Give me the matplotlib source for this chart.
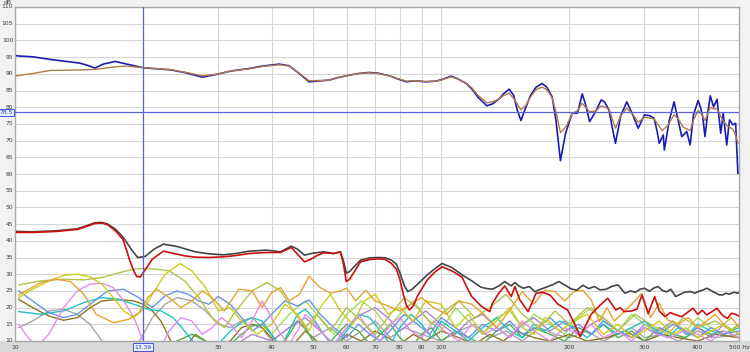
import matplotlib
matplotlib.use("Agg")
import matplotlib.pyplot as plt
from matplotlib.patches import Rectangle

# ---------------- data ----------------
blue_f = [10.1, 10.3, 11.0, 12.1, 13.2, 14.2, 15.0, 15.4, 16.1, 17.2, 18.3, 20, 21.5, 23.1, 25, 27.5,
          29.9, 32, 35.5, 38, 41.7, 44, 46, 49, 51, 54.6, 57, 60.9, 64, 67.8, 71, 75.6, 79, 82.9,
          87, 92, 97.3, 101, 105.6, 109, 114.5, 118, 122, 128, 132, 136.8, 140, 144.4, 148, 151,
          153.9, 157, 162, 167, 172.6, 177, 182.2, 186, 190.5, 195.9, 203, 209, 214.3, 218, 223,
          230, 237.5, 242, 247.6, 252, 256.5, 264, 272.7, 281, 290, 300, 308, 316, 321, 325, 332,
          334, 343, 352, 360, 367, 377, 384, 391, 401, 406, 411, 416, 422, 428, 436, 444, 453,
          459, 468, 475, 484, 491, 497]
blue_db = [95.4, 95.3, 95.1, 94.3, 93.7, 93.2, 92.3, 91.7, 92.9, 93.7, 92.9, 91.8, 91.5, 91.2, 90.4,
           89.0, 89.9, 90.8, 91.6, 92.3, 92.9, 92.4, 90.5, 87.6, 87.8, 88.1, 88.8, 89.6, 90.1, 90.4,
           90.2, 89.4, 88.5, 87.6, 87.9, 87.6, 87.8, 88.4, 89.3, 88.6, 87.1, 85.5, 83.0, 80.4,
           81.0, 82.5, 84.0, 85.4, 83.5, 79.0, 76.0, 79.0, 83.5, 86.0, 87.1, 86.0, 83.1, 76.0,
           64.0, 72.2, 78.2, 78.2, 84.0, 81.0, 75.7, 78.5, 82.2, 81.5, 79.2, 74.0, 69.2, 77.5,
           81.6, 78.0, 73.7, 77.7, 77.5, 76.7, 73.0, 69.2, 71.7, 67.2, 76.0, 81.6, 76.0, 71.2,
           72.7, 68.7, 77.7, 82.0, 80.0, 77.2, 71.2, 78.0, 83.4, 80.1, 82.4, 72.2, 78.2, 68.7,
           76.2, 74.7, 75.2, 60.2]

brown_f = [10.1, 11.0, 12.1, 13.8, 15.4, 17.2, 18.3, 20, 23.1, 25, 27.5, 29.9, 32, 35.5, 38, 41.7,
           44, 46, 49, 54.6, 57, 60.9, 64, 67.8, 71, 75.6, 79, 82.9, 87, 92, 97.3, 101, 105.6,
           109, 114.5, 118, 122, 128, 132, 136.8, 140, 144.4, 148, 153.9, 158, 162, 167, 172.6,
           177, 182, 186, 190.5, 196, 203, 209, 214, 223, 230, 237.5, 247.6, 256.5, 264, 272.7,
           281, 290, 300, 316, 330, 340, 352, 360, 370, 384, 392, 401, 408, 416, 428, 436, 444,
           452, 459, 468, 475, 483, 490, 497]
brown_db = [89.4, 90.1, 91.0, 91.1, 91.3, 92.1, 92.3, 91.8, 91.3, 90.5, 89.4, 89.9, 90.8, 91.5, 92.2,
            92.7, 92.3, 90.6, 87.9, 88.1, 88.8, 89.6, 90.1, 90.3, 90.1, 89.4, 88.6, 87.8, 87.9,
            87.7, 87.8, 88.3, 89.1, 88.5, 87.2, 85.8, 83.6, 81.3, 81.6, 82.5, 83.5, 84.2, 82.6,
            79.2, 80.5, 83.0, 85.3, 86.0, 85.2, 83.0, 78.5, 72.4, 74.0, 78.0, 79.0, 81.2, 78.7,
            78.8, 80.4, 79.5, 73.7, 77.5, 79.7, 78.0, 75.5, 77.0, 76.5, 73.0, 74.5, 77.7, 76.5,
            74.0, 73.0, 76.5, 79.0, 78.0, 76.0, 80.0, 79.5, 79.5, 77.5, 76.0, 74.5, 74.0, 73.5,
            72.0, 69.2]

black_f = [10.1, 11, 12.5, 14, 14.8, 15.4, 16.0, 16.5, 17.2, 17.9, 18.4, 18.8, 19.4, 20.2, 21.2,
           22.3, 24, 26.5, 28.5, 30.8, 33, 35.5, 39, 42, 44.5, 46, 47.8, 50, 53, 56, 58, 59.0,
           59.9, 61, 62, 64.7, 68, 71.7, 74, 76.5, 78.5, 80, 82, 83.5, 85.5, 88, 92.8, 97, 100.5,
           106, 112, 118, 124, 128, 132, 137, 141, 146, 149, 152, 156, 161, 166, 172, 178, 183,
           189, 196, 202, 208, 215, 222, 229, 236, 244, 252, 260, 270, 278, 286, 293, 300, 308,
           316, 323, 330, 338, 346, 355, 364, 373, 385, 394, 403, 412, 420, 430, 440, 450, 458,
           466, 474, 480, 488, 496, 500]
black_db = [42.8, 42.7, 43.0, 43.6, 44.6, 45.4, 45.5, 45.0, 43.5, 41.2, 39.0, 37.2, 35.0, 35.3, 37.5,
            39.0, 38.3, 36.7, 36.1, 35.8, 36.2, 36.9, 37.2, 36.7, 38.4, 37.5, 35.7, 36.3, 36.7,
            36.2, 36.7, 34.0, 30.3, 30.8, 31.8, 34.2, 34.9, 35.0, 34.9, 34.2, 33.0, 30.5, 26.5,
            24.8, 25.5, 27.0, 29.8, 31.8, 33.2, 32.0, 29.8, 28.0, 26.1, 25.7, 25.5, 26.6, 27.8,
            26.5, 27.5, 26.5, 25.8, 26.3, 24.8, 25.6, 26.3, 26.9, 27.8, 26.6, 25.6, 25.2, 26.7,
            25.7, 26.3, 25.3, 25.5, 26.4, 26.8, 24.3, 25.0, 24.6, 25.5, 25.8, 24.9, 25.9, 26.3,
            25.2, 24.7, 25.5, 23.3, 24.0, 24.6, 24.8, 24.3, 24.9, 25.3, 25.8, 25.1, 24.4, 23.8,
            23.8, 24.3, 24.0, 24.3, 24.6, 24.3, 24.5]

red_f = [10.1, 11, 12.5, 14, 14.8, 15.4, 16.0, 16.5, 17.2, 17.9, 18.3, 18.6, 19.0, 19.3, 19.7, 20,
         20.5, 21, 22.3, 25, 26.5, 28.5, 30.8, 33, 35.5, 39, 42, 44.5, 46, 47.8, 49.5, 51, 53, 56,
         58, 59.0, 59.9, 61, 62, 64.7, 68, 71.7, 74, 76.5, 78.5, 80, 81.5, 83, 84.3, 86, 88,
         92.8, 97, 100.5, 106, 112, 115, 118, 124, 130, 132, 136, 141, 146, 149, 153, 160, 167,
         173, 180, 188, 198, 205, 212, 218, 225, 235, 246, 257, 263, 269, 280, 288, 296, 306, 317,
         325, 335, 345, 356, 367, 378, 390, 400, 410, 420, 432, 444, 455, 462, 470, 480, 490, 500]
red_db = [42.5, 42.5, 42.8, 43.4, 44.4, 45.2, 45.3, 44.8, 43.0, 40.5, 37.0, 34.0, 31.0, 29.3, 29.2,
          30.5, 32.5, 34.5, 36.9, 35.5, 35.1, 35.0, 35.2, 35.6, 36.2, 36.5, 36.5, 38.0, 36.0, 33.7,
          34.5, 35.5, 36.4, 36.2, 36.7, 33.0, 27.8, 28.5, 30.0, 33.7, 34.4, 34.6, 34.4, 33.2, 31.5,
          28.5, 24.0, 20.5, 19.3, 20.5, 23.5, 28.3, 30.8, 32.2, 31.0, 29.1, 26.0, 23.3, 20.5, 18.8,
          21.3, 24.0, 26.5, 23.3, 26.3, 22.3, 18.8, 24.3, 24.6, 23.8, 21.0, 19.3, 15.5, 11.3, 14.5,
          18.0, 20.5, 22.8, 19.3, 20.0, 18.8, 19.0, 19.5, 23.8, 18.2, 23.3, 19.0, 17.3, 18.5, 17.8,
          17.3, 18.5, 19.8, 18.0, 19.2, 17.8, 18.8, 19.8, 18.0, 17.3, 16.8, 18.3, 18.0, 17.5]

yellow_f = [10.2, 11, 12, 13, 14, 15, 16, 17, 18, 19, 20, 21, 22.5, 24.4, 26, 28, 30, 32, 34, 37, 40,
            43, 46, 49, 52, 55, 58, 62, 66, 70, 75, 80, 86, 92, 100, 108, 116, 125, 135, 145, 155,
            165, 175, 190, 205, 220, 240, 260, 280, 300, 325, 350, 375, 400, 430, 460, 500]
yellow_db = [23, 25.5, 28, 29.6, 30, 29.2, 27, 23, 19, 17, 19.5, 24, 30, 33.2, 31, 26, 19, 20, 16, 12,
             15, 21, 18, 13, 20, 24, 19, 15, 22, 24, 18, 20, 16, 22, 21, 14, 18, 12, 16, 20, 14,
             12, 17, 13, 16, 18, 12, 15, 11, 13, 16, 12, 14, 11, 13, 15, 12]

olive_f = [10.2, 11.5, 13, 14.5, 16, 17.5, 19, 20, 21.5, 23, 25, 27, 29, 31, 33, 36, 39, 42, 45, 48,
           51, 55, 60, 65, 70, 76, 82, 88, 95, 102, 110, 120, 130, 142, 155, 170, 185, 200, 220,
           240, 260, 285, 310, 340, 370, 400, 440, 480, 500]
olive_db = [26.8, 28, 28.5, 28.3, 29, 30.4, 31.5, 31.7, 31.5, 31, 28, 23, 17, 14, 19, 25, 27.5, 25,
            19, 14, 18, 13, 20, 16, 12, 18, 23, 20, 15, 19, 22, 17, 20, 24, 18, 14, 19, 15, 20,
            17, 13, 18, 15, 12, 17, 14, 16, 13, 15]

orange_f = [10.2, 11.5, 12.5, 13.5, 14.5, 15.5, 17, 18.5, 19.5, 20.5, 21.5, 23, 24.5, 26, 27.5, 29,
            31, 33.5, 36, 38, 40, 42, 44, 46.5, 49, 52, 55, 58, 60, 63, 66.5, 70, 75, 80, 85, 90,
            96, 103, 110, 118, 126, 135, 145, 155, 165, 175, 185, 195, 205, 215, 225, 235, 245,
            255, 265, 280, 295, 310, 325, 340, 360, 380, 400, 420, 440, 460, 480, 500]
orange_db = [23.8, 27.5, 28.5, 27.8, 24, 18, 15.5, 16.5, 18.4, 23, 25.5, 23, 20, 22, 25, 23, 19,
             25.5, 25, 20, 24.5, 26, 22, 24, 29.4, 26, 24.3, 25, 25.8, 22, 25.2, 22, 20.5, 19, 21,
             23, 20, 18, 22, 21, 18, 14, 19.3, 24.8, 21, 25.2, 24.8, 22, 24.8, 25.2, 22.3, 15.8,
             20, 16, 18, 21, 24.2, 17, 21.3, 16.3, 15, 17, 14, 16, 18, 15, 17, 14]

pink_f = [10.2, 10.6, 11.2, 12, 13, 14, 15, 16, 17, 18, 19, 20, 21, 22, 23, 24.5, 26, 27.5, 29,
          30.5, 32, 34, 36, 38, 40, 42, 44, 46, 48, 50, 53, 56, 60, 64, 68, 72, 76, 80, 85, 90,
          96, 102, 110, 118, 126, 135, 145, 155, 165, 180, 195, 210, 225, 240, 260, 280, 300,
          320, 345, 370, 400, 430, 460, 500]
pink_db = [15, 12, 8, 12, 20, 25, 27, 27.3, 26, 22, 17, 10, 5, 8, 13, 17, 16, 12, 14, 17, 15, 11,
           16, 22, 17, 12, 9, 13, 18, 16, 12, 9, 14, 18, 13, 10, 15, 17, 13, 11, 16, 13, 10, 15,
           12, 14, 11, 16, 13, 10, 14, 12, 15, 11, 13, 10, 14, 12, 11, 13, 12, 10, 13, 11]

ltblue_f = [10.2, 11, 12, 13, 14, 15, 16.5, 18, 19.5, 21, 22.5, 24, 25.5, 27, 28.5, 30, 32, 34,
            36, 38, 40, 43, 46, 49, 52, 56, 60, 64, 68, 72, 77, 82, 88, 94, 100, 108, 116, 125,
            135, 145, 155, 168, 180, 195, 210, 225, 240, 260, 280, 300, 325, 350, 375, 400, 430,
            460, 500]
ltblue_db = [25, 22, 18.5, 17, 18, 21, 25, 25.5, 23, 20, 23.5, 25, 24, 22, 21, 23.3, 21, 17, 13,
             15, 18, 22, 20.5, 22.3, 18, 14, 11, 15, 12, 10, 14, 18, 15, 12, 17, 14, 11, 15, 13,
             16, 12, 14, 17, 13, 15, 12, 16, 13, 11, 14, 12, 15, 13, 11, 14, 12, 13]

cyan_f = [10.2, 11.5, 13, 14.5, 16, 17.5, 19, 20.5, 22, 23.5, 25, 26.5, 28, 30, 32, 34, 36, 38, 40,
          42, 44, 46, 48, 50, 53, 56, 60, 64, 68, 72, 76, 80, 85, 90, 95, 100, 108, 116, 125, 135,
          145, 155, 165, 175, 190, 205, 220, 240, 260, 280, 300, 320, 340, 360, 380, 400, 430,
          460, 500]
cyan_db = [18.8, 18, 19, 21.5, 23, 22.5, 21, 19.5, 19, 17, 13, 9, 5, 9, 13, 15.5, 17, 16, 12, 8,
           13, 18, 19.5, 17, 12, 8, 13, 18, 17, 13, 9, 14, 18, 15, 11, 16, 13, 10, 14, 17, 13, 11,
           15, 13, 16, 14, 11, 15, 12, 14, 16, 13, 11, 14, 12, 15, 13, 12, 14]

gray_f = [10.2, 11, 12, 13, 14, 15, 16, 17, 18, 19, 20, 21, 22.5, 24, 26, 28, 30, 32, 34, 36, 38,
          40, 43, 46, 50, 55, 60, 65, 70, 76, 82, 90, 100, 110, 120, 130, 142, 155, 170, 185, 200,
          220, 240, 260, 280, 300, 330, 360, 400, 440, 500]
gray_db = [14, 16, 19, 19.5, 18, 15, 10, 5, 5, 7, 12, 17, 21, 23, 22, 19, 15, 14, 16, 17, 14, 10,
           13, 16, 11, 14, 10, 13, 16, 11, 14, 12, 10, 13, 15, 11, 13, 10, 14, 12, 11, 13, 10, 12,
           14, 11, 12, 10, 13, 11, 12]

dkolive_f = [10.2, 11, 12, 13, 14, 15, 16, 17, 18, 19, 20, 21, 22, 23, 24, 25, 26.5, 28, 30, 32,
             34, 36, 38, 40, 42, 45, 48, 51, 55, 60, 65, 70, 75, 80, 86, 92, 100, 110, 120, 130,
             140, 150, 165, 180, 200, 220, 245, 270, 300, 330, 360, 400, 440, 500]
dkolive_db = [22.5, 20, 17.5, 16.2, 17, 20, 22, 22.3, 22.3, 22, 21, 19, 16, 11, 6, 8, 12, 10, 7,
              10, 14, 15, 14, 11, 6, 9, 13, 10, 6, 12, 10, 13, 11, 9, 12, 10, 13, 11, 9, 12, 10,
              13, 11, 10, 12, 10, 11, 13, 10, 12, 11, 10, 12, 11]

green_f = [20, 22, 24, 26, 28, 30, 32, 34, 36, 38, 40, 42, 44, 46, 48, 50, 53, 56, 60, 64, 68, 72,
           76, 80, 85, 90, 95, 100, 108, 116, 125, 135, 145, 155, 165, 180, 195, 210, 225, 240,
           260, 280, 300, 325, 350, 375, 400, 430, 460, 500]
green_db = [5, 7, 10, 12, 10, 7, 9, 12, 14.5, 15, 12, 8, 12, 16, 14, 10, 7, 11, 15, 13, 9, 12, 15,
            11, 8, 12, 14, 10, 13, 11, 9, 13, 15, 11, 14, 12, 10, 14, 12, 15, 11, 13, 10, 14, 12,
            11, 14, 12, 13, 11]

violet_f = [30, 33, 36, 40, 44, 48, 52, 56, 60, 65, 70, 75, 80, 86, 92, 100, 108, 116, 125, 135,
            145, 155, 165, 180, 195, 210, 225, 240, 260, 280, 300, 325, 350, 375, 400, 430, 460,
            500]
violet_db = [5, 9, 12, 10, 14, 17, 13, 9, 14, 18, 20, 17, 13, 16, 19, 15, 12, 16, 18, 14, 11, 15,
             17, 13, 16, 12, 15, 17, 13, 11, 15, 13, 16, 12, 14, 11, 15, 12]

ltgreen_f = [40, 44, 48, 52, 56, 60, 65, 70, 75, 80, 86, 92, 100, 108, 116, 125, 135, 145, 155,
             165, 180, 195, 210, 225, 240, 260, 280, 300, 325, 350, 375, 400, 430, 460, 500]
ltgreen_db = [12, 18, 22, 17, 12, 18, 22, 19, 14, 18, 22, 17, 13, 20, 16, 12, 17, 19, 14, 18, 15,
              12, 17, 20, 16, 13, 18, 15, 12, 16, 13, 17, 14, 12, 15]

x_ticks = [10, 30, 40, 50, 60, 70, 80, 90, 100, 200, 300, 400, 500]
x_tick_labels = ["10", "30", "40", "50", "60", "70", "80", "90", "100", "200", "300", "400", "500 Hz"]
x_grid = [10, 20, 30, 40, 50, 60, 70, 80, 90, 100, 200, 300, 400, 500]
y_ticks = list(range(10, 111, 5))
cursor_x = 20.0
cursor_x_label = "13.39"
cursor_y = 78.5

# ---------------- figure ----------------
W, H = 750, 352
fig = plt.figure(figsize=(W / 100, H / 100), dpi=100)
fig.patch.set_facecolor("#f2f2f2")

L, R, T, B = 15, 739, 7, 341
ax = fig.add_axes([L / W, (H - B) / H, (R - L) / W, (B - T) / H])
ax.set_facecolor("white")
ax.set_xscale("log")
ax.set_xlim(10, 500)
ax.set_ylim(10, 110)

for xv in x_grid:
    ax.axvline(xv, color="#d6d6d6", lw=0.8, zorder=0)
for yv in y_ticks:
    ax.axhline(yv, color="#d6d6d6", lw=0.8, zorder=0)

ax.set_xticks([])
ax.set_yticks([])
ax.minorticks_off()
for s in ax.spines.values():
    s.set_color("#a8a8a8")
    s.set_linewidth(1.0)

lw_small = 1.0
small = [
    (gray_f, gray_db, "#a6a6a6"),
    (dkolive_f, dkolive_db, "#8a7620"),
    (green_f, green_db, "#4fae4f"),
    (violet_f, violet_db, "#b07ee0"),
    (ltgreen_f, ltgreen_db, "#a2dc5c"),
    (cyan_f, cyan_db, "#20c2c2"),
    (ltblue_f, ltblue_db, "#6a92e6"),
    (pink_f, pink_db, "#e88ce6"),
    (olive_f, olive_db, "#b3c24c"),
    (yellow_f, yellow_db, "#cdcd1e"),
    (orange_f, orange_db, "#e6a232"),
]
for f, d, c in small:
    ax.plot(f, d, color=c, lw=lw_small, zorder=2, solid_joinstyle="round")

ax.plot(black_f, black_db, color="#454545", lw=1.2, zorder=3, solid_joinstyle="round")
ax.plot(red_f, red_db, color="#cc1010", lw=1.2, zorder=3, solid_joinstyle="round")
ax.plot(blue_f, blue_db, color="#1c1cb4", lw=1.2, zorder=3, solid_joinstyle="round")
ax.plot(brown_f, brown_db, color="#b07c4a", lw=1.0, zorder=4, solid_joinstyle="round")

# cursors
ax.axvline(cursor_x, color="#5a64d8", lw=0.9, zorder=5)
ax.axhline(cursor_y, color="#5a64d8", lw=0.9, zorder=5)

# bottom strip
fig.patches.append(Rectangle((0, 0), 1, (H - B) / H, transform=fig.transFigure,
                             facecolor="#d9d9d9", edgecolor="none", zorder=-1))

tkw = dict(fontsize=4.3, color="#3a3a3a", family="DejaVu Sans")
trans_x = ax.get_xaxis_transform()
for xv, lab in zip(x_ticks, x_tick_labels):
    ax.text(xv, -0.018, lab, transform=trans_x, ha="center", va="center", clip_on=False, **tkw)
trans_y = ax.get_yaxis_transform()
for yv in y_ticks:
    ax.text(-0.0025, yv, str(yv), transform=trans_y, ha="right", va="center", clip_on=False, **tkw)
fig.text(8 / W, 1 - 2 / H, "dB", ha="center", va="center", **tkw)

# cursor labels
ax.text(cursor_x, -0.018, cursor_x_label, transform=trans_x, ha="center", va="center",
        fontsize=4.3, color="#3344cc", clip_on=False, zorder=6,
        bbox=dict(boxstyle="square,pad=0.25", facecolor="#e8ecff", edgecolor="#4455dd", lw=0.7))
ax.text(-0.0125, cursor_y, "78.5", transform=trans_y, ha="center", va="center",
        fontsize=4.3, color="#3344cc", clip_on=False, zorder=6,
        bbox=dict(boxstyle="square,pad=0.2", facecolor="#e8ecff", edgecolor="#4455dd", lw=0.7))

fig.savefig("out.png", dpi=100)
